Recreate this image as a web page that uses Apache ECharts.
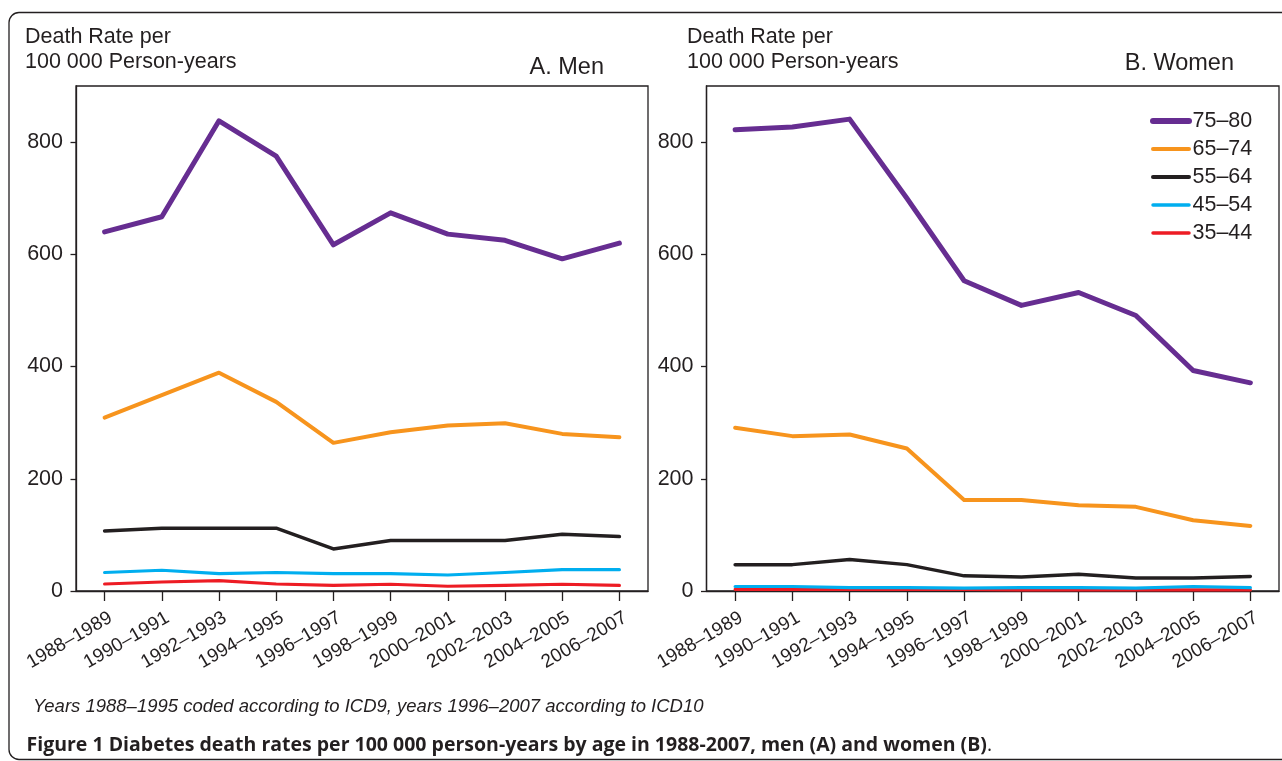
<!DOCTYPE html>
<html>
<head>
<meta charset="utf-8">
<script src="https://cdn.jsdelivr.net/npm/echarts@6/dist/echarts.min.js"></script>
<style>
html,body{margin:0;padding:0;background:#fff;}
#chart{width:1282px;height:761px;}
</style>
</head>
<body>
<div id="chart"></div>
<script>
const categories = ['1988–1989','1990–1991','1992–1993','1994–1995','1996–1997','1998–1999','2000–2001','2002–2003','2004–2005','2006–2007'];
const yTicks = [0, 200, 400, 600, 800];
const ageGroups = ['75–80','65–74','55–64','45–54','35–44'];

const men75 = [640, 667, 838, 775, 617, 674, 636, 625, 592, 620];
const men65 = [309, 349, 389, 337, 264, 283, 295, 299, 280, 274];
const men55 = [107, 112, 112, 112, 75, 90, 90, 90, 101, 97];
const men45 = [33, 37, 31, 33, 31, 31, 28.5, 33, 38, 38];
const men35 = [12.5, 16, 18.5, 12.5, 10, 12, 8.5, 10, 12, 10];

const women75 = [822, 827, 841, 700, 553, 509, 532, 491, 393, 371];
const women65 = [291, 276, 279, 254, 162, 162, 153, 150, 126, 116];
const women55 = [47, 47, 56, 47, 27, 25, 30, 23, 23, 26];
const women45 = [8, 8, 6, 6, 5, 6, 6, 5, 8, 6];
const women35 = [3, 3, 3, 3, 3, 2, 2, 2, 2, 2];

const colors = {'75–80':'#662d91','65–74':'#f7941d','55–64':'#231f20','45–54':'#00aeef','35–44':'#ed1c24'};
const widths = {'75–80':5,'65–74':4,'55–64':3.5,'45–54':3.2,'35–44':3.2};
const legendWidths = {'75–80':6,'65–74':4,'55–64':4,'45–54':3.5,'35–44':3.5};

const ink = '#231f20';
const FONT = '"Liberation Sans", Arial, Helvetica, sans-serif';

function xAxis(gi){
  return {
    type:'category', gridIndex:gi, data:categories, boundaryGap:true,
    axisLine:{show:true, lineStyle:{color:ink, width:1.3}},
    axisTick:{show:true, alignWithLabel:true, length:10, lineStyle:{color:ink, width:1.3}},
    axisLabel:{rotate:30, fontSize:19, color:ink, fontFamily:FONT, margin:29, padding:[0,-7,0,0], interval:0},
    splitLine:{show:false}
  };
}
function yAxis(gi){
  return {
    type:'value', gridIndex:gi, min:0, max:900, interval:200,
    axisLine:{show:true, lineStyle:{color:ink, width:1.3}},
    axisTick:{show:true, length:5.5, customValues:yTicks, lineStyle:{color:ink, width:1.3}},
    axisLabel:{fontSize:21.5, color:ink, fontFamily:FONT, margin:13, customValues:yTicks},
    splitLine:{show:false}
  };
}
function mkSeries(gi, dataMap){
  return ageGroups.slice().reverse().map(name => ({
    name, type:'line', xAxisIndex:gi, yAxisIndex:gi,
    data:dataMap[name], symbol:'none', smooth:false,
    lineStyle:{color:colors[name], width:widths[name], cap:'round', join:'round'},
    itemStyle:{color:colors[name]},
    z: 2 + ageGroups.length - ageGroups.indexOf(name)
  }));
}

const chart = echarts.init(document.getElementById('chart'), null, {renderer:'canvas'});
const option = {
  animation:false,
  backgroundColor:'#fff',
  grid:[
    {left:76, right:1282-648, top:86, bottom:761-591, show:true, borderColor:ink, borderWidth:1.3, backgroundColor:'transparent'},
    {left:706.5, right:3, top:86, bottom:761-591, show:true, borderColor:ink, borderWidth:1.3, backgroundColor:'transparent'}
  ],
  xAxis:[xAxis(0), xAxis(1)],
  yAxis:[yAxis(0), yAxis(1)],
  legend:{
    data:ageGroups.map(name => ({
      name,
      itemStyle:{color:'rgba(0,0,0,0)', borderWidth:0, opacity:0},
      lineStyle:{color:colors[name], width:legendWidths[name], opacity:1}
    })),
    orient:'vertical', left:1150, top:110, padding:0,
    itemWidth:36, itemHeight:14, itemGap:6,
    itemStyle:{color:'rgba(0,0,0,0)', borderWidth:0, opacity:0},
    textStyle:{fontSize:21.5, color:ink, fontFamily:FONT, lineHeight:22, padding:[0,0,0,-1.5]},
    selectedMode:false
  },
  series:[].concat(
    mkSeries(0, {'75–80':men75,'65–74':men65,'55–64':men55,'45–54':men45,'35–44':men35}),
    mkSeries(1, {'75–80':women75,'65–74':women65,'55–64':women55,'45–54':women45,'35–44':women35})
  ),
  graphic:[
    {type:'rect', shape:{x:9, y:12.5, width:1320, height:747, r:10}, style:{fill:'none', stroke:ink, lineWidth:1.3}, z:-1},
    {type:'text', x:25, y:36.8, style:{text:'Death Rate per', font:'21.5px '+FONT, fill:ink, verticalAlign:'middle'}},
    {type:'text', x:25, y:61.7, style:{text:'100 000 Person-years', font:'21.5px '+FONT, fill:ink, verticalAlign:'middle'}},
    {type:'text', x:687, y:36.8, style:{text:'Death Rate per', font:'21.5px '+FONT, fill:ink, verticalAlign:'middle'}},
    {type:'text', x:687, y:61.7, style:{text:'100 000 Person-years', font:'21.5px '+FONT, fill:ink, verticalAlign:'middle'}},
    {type:'text', x:604, y:67.3, style:{text:'A. Men', font:'23.5px '+FONT, fill:ink, verticalAlign:'middle', align:'right'}},
    {type:'text', x:1234, y:63.9, style:{text:'B. Women', font:'23.5px '+FONT, fill:ink, verticalAlign:'middle', align:'right'}},
    {type:'text', x:33, y:706.5, style:{text:'Years 1988–1995 coded according to ICD9, years 1996–2007 according to ICD10', font:'italic 18.5px '+FONT, fill:ink, verticalAlign:'middle'}},
    {type:'text', x:26.5, y:745, style:{
      text:'{b|Figure 1 Diabetes death rates per 100 000 person-years by age in 1988-2007, men (A) and women (B)}{n|.}',
      verticalAlign:'middle',
      rich:{
        b:{font:'bold 19.5px "Open Sans", "Noto Sans", sans-serif', fill:ink},
        n:{font:'19.5px "Open Sans", "Noto Sans", sans-serif', fill:ink}
      }
    }}
  ]
};
chart.setOption(option);
</script>
</body>
</html>
